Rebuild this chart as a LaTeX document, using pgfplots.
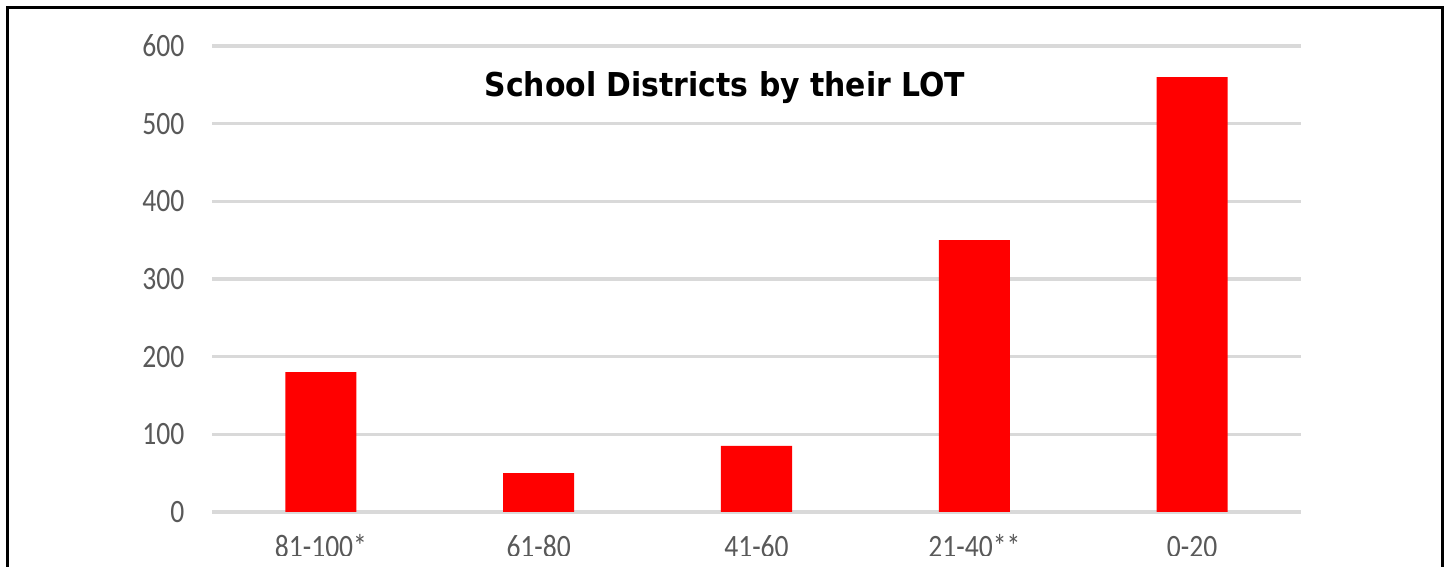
\documentclass[border=0pt]{standalone}
\usepackage{pgfplots}
\pgfplotsset{compat=1.18}
\usepackage{fontspec}
\setmainfont{Carlito}
\newfontfamily\titlefont{DejaVu Sans}
\definecolor{barred}{HTML}{FF0000}
\definecolor{gridgray}{HTML}{D9D9D9}
\definecolor{labelgray}{HTML}{595959}
\newcommand{\tall}[1]{\scalebox{1}[1.18]{#1}}

\begin{document}
\begin{tikzpicture}
% page is 1449 x 567 px, 1 px = 0.01 cm
\path[use as bounding box] (0,0) rectangle (14.49,5.67);
\clip (0,0) rectangle (14.49,5.67);
\fill[white] (0,0) rectangle (14.49,5.67);

\begin{axis}[
    at={(2.12cm,0.55cm)}, anchor=south west,
    scale only axis,
    width=10.89cm, height=4.66cm,
    ybar, bar width=0.71cm,
    xmin=-0.5, xmax=4.5,
    ymin=0, ymax=600,
    ytick={0,100,...,600},
    yticklabel={\tall{\pgfmathprintnumber{\tick}}},
    xtick=data,
    xticklabels={\tall{81-100*}, \tall{61-80}, \tall{41-60}, \tall{21-40**}, \tall{0-20}},
    major tick length=0pt,
    axis line style={draw=none},
    ymajorgrids,
    grid style={gridgray, line width=0.9pt},
    /pgf/number format/assume math mode=true,
    ticklabel style={font=\fontsize{7.85}{9}\selectfont, text=labelgray},
    yticklabel style={anchor=east, inner sep=0pt, xshift=-0.27cm},
    xticklabel style={anchor=base, inner sep=0pt, yshift=-0.46cm},
    clip=false,
]
\addplot[fill=barred, draw=none] coordinates {
    (0,180) (1,50) (2,85) (3,350) (4,560)
};
\end{axis}

% the source picture is cut just under the category labels
\fill[white] (0,-0.1) rectangle (14.49,0.11);

\node[anchor=base, inner sep=0pt, font=\titlefont\bfseries\fontsize{8.5}{10}\selectfont]
    at (7.25,4.70) {\scalebox{1}[1.1]{School Districts by their LOT}};

\draw[line width=0.35mm] (0.075,-1) -- (0.075,5.595) -- (14.425,5.595) -- (14.425,-1);
\end{tikzpicture}
\end{document}
